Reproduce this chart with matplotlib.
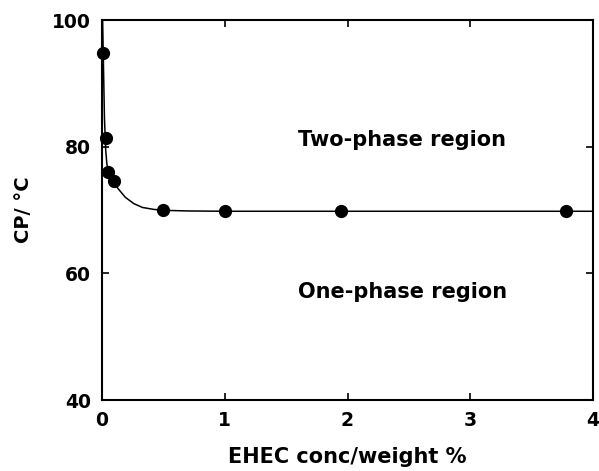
import matplotlib
matplotlib.use("Agg")
import matplotlib.pyplot as plt

# Measured cloud points
conc = [0.01, 0.03, 0.05, 0.10, 0.50, 1.00, 1.95, 3.78]
cp = [94.8, 81.3, 76.0, 74.5, 70.0, 69.9, 69.8, 69.9]

# Drawn guide curve
curve_x = [0.005, 0.01, 0.02, 0.03, 0.04, 0.06, 0.09, 0.13, 0.19, 0.26, 0.33, 0.42, 0.5, 0.7, 1.0, 4.0]
curve_y = [100, 94.7, 84.5, 79.5, 77.2, 75.8, 74.6, 73.4, 72.0, 71.0, 70.4, 70.1, 69.95, 69.85, 69.8, 69.8]

xticks = [0, 1, 2, 3, 4]
yticks = [40, 60, 80, 100]

plt.rcParams['font.family'] = ['DejaVu Sans']
plt.rcParams['font.weight'] = 'bold'

fig = plt.figure(figsize=(5.99, 4.71), dpi=100)
ax = fig.add_axes([102/599, 1-400/471, (593-102)/599, (400-20)/471])

ax.plot(curve_x, curve_y, color='black', lw=1.1, zorder=2, clip_on=False)
ax.plot(conc, cp, 'o', color='black', ms=8.5, zorder=3, clip_on=False)

ax.set_xlim(0, 4)
ax.set_ylim(40, 100)
ax.set_xticks(xticks)
ax.set_yticks(yticks)
ax.tick_params(direction='in', length=5, width=1.2, top=True, right=True,
               labelsize=13.5, pad=8)
for lab in ax.get_xticklabels() + ax.get_yticklabels():
    lab.set_fontweight('bold')
for s in ax.spines.values():
    s.set_linewidth(1.5)

ax.set_xlabel('EHEC conc/weight %', fontsize=15, fontweight='bold', labelpad=12)
ax.set_ylabel('CP/ °C', fontsize=14, fontweight='bold', labelpad=14)

ax.text(1.6, 81.05, 'Two-phase region', fontsize=15, fontweight='bold', va='center', ha='left')
ax.text(1.6, 57.05, 'One-phase region', fontsize=15, fontweight='bold', va='center', ha='left')

fig.savefig('out.png', dpi=100)
